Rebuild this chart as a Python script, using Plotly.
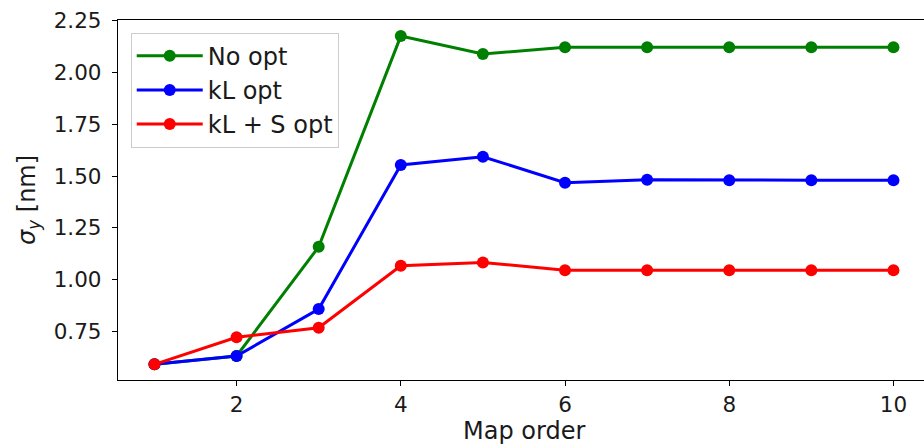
import plotly.graph_objects as go

# Map order on the x axis
map_order = [1, 2, 3, 4, 5, 6, 7, 8, 9, 10]

# Vertical beam size sigma_y [nm] for each optimisation scheme
no_opt = [0.593, 0.633, 1.159, 2.174, 2.088, 2.120, 2.120, 2.120, 2.120, 2.120]
kl_opt = [0.593, 0.633, 0.859, 1.553, 1.593, 1.468, 1.482, 1.480, 1.480, 1.480]
kl_s_opt = [0.593, 0.723, 0.769, 1.068, 1.084, 1.046, 1.046, 1.046, 1.046, 1.046]

series_names = ["No opt", "kL opt", "kL + S opt"]
series_colors = ["#008000", "#0000ff", "#ff0000"]

x_ticks = [2, 4, 6, 8, 10]
y_ticks = [0.75, 1.00, 1.25, 1.50, 1.75, 2.00, 2.25]

FONT = "DejaVu Sans, Arial, sans-serif"

fig = go.Figure()
for name, values, color in zip(series_names, [no_opt, kl_opt, kl_s_opt], series_colors):
    fig.add_trace(go.Scatter(
        x=map_order, y=values, name=name, mode="lines+markers",
        line=dict(color=color, width=3),
        marker=dict(color=color, size=12),
    ))

axis_common = dict(
    showgrid=False, zeroline=False,
    showline=True, linecolor="black", linewidth=1.3,
    ticks="outside", ticklen=5, tickwidth=1.3, tickcolor="black",
    tickfont=dict(family=FONT, size=21.5, color="#1a1a1a"),
)

fig.update_layout(
    width=924, height=445,
    margin=dict(l=118, r=0, t=20, b=65),
    paper_bgcolor="white", plot_bgcolor="white",
    font=dict(family=FONT, color="#1a1a1a"),
    xaxis=dict(range=[0.556, 10.372], tickvals=x_ticks, mirror=True,
               ticklabelstandoff=0, **axis_common),
    yaxis=dict(range=[0.5175, 2.2515], tickvals=y_ticks, tickformat=".2f",
               ticklabelstandoff=6, **axis_common),
    legend=dict(
        x=0.0158, y=0.965, xanchor="left", yanchor="top",
        bgcolor="rgba(255,255,255,0.8)", bordercolor="#cccccc", borderwidth=1,
        font=dict(family=FONT, size=24, color="#1a1a1a"),
        itemwidth=66, tracegroupgap=0,
    ),
    showlegend=True,
    annotations=[
        dict(text="Map order", xref="paper", yref="paper", x=0.5034, y=0,
             xanchor="center", yanchor="top", yshift=-35, showarrow=False,
             font=dict(family=FONT, size=24, color="#1a1a1a")),
        dict(text="<i>σ</i><sub><i>y</i></sub> [nm]", xref="paper", yref="paper",
             x=0, y=0.5, xanchor="center", yanchor="middle", xshift=-90,
             textangle=-90, showarrow=False,
             font=dict(family=FONT, size=24, color="#1a1a1a")),
    ],
)

fig.write_html("out.html")
